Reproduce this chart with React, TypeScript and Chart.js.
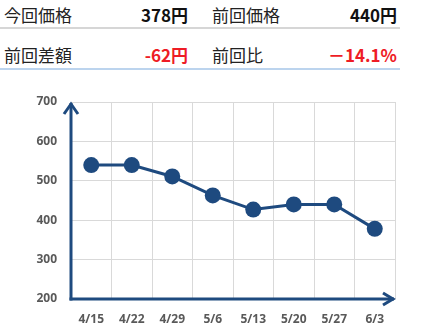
import React, { useEffect, useRef } from 'react';
import { Chart, registerables } from 'chart.js';

Chart.register(...registerables);

const categories = ['4/15', '4/22', '4/29', '5/6', '5/13', '5/20', '5/27', '6/3'];
const prices = [540, 540, 511, 463, 427, 440, 440, 378];
const yMin = 200;
const yMax = 700;
const yStep = 100;

const summaryLabels = ['今回価格', '前回価格', '前回差額', '前回比'];
const summaryValues = ['378円', '440円', '-62円', '－14.1%'];
const summaryValueColors = ['#111111', '#111111', '#ee1c25', '#ee1c25'];

const NAVY = '#1e4a7f';

const axisArrows = {
  id: 'axisArrows',
  beforeDatasetsDraw(chart: any) {
    const { ctx, chartArea } = chart;
    const { left, top, right, bottom } = chartArea;
    ctx.save();
    ctx.strokeStyle = NAVY;
    ctx.lineWidth = 3;
    ctx.lineJoin = 'miter';
    ctx.lineCap = 'butt';
    // y axis
    ctx.beginPath();
    ctx.moveTo(left, bottom + 1.5);
    ctx.lineTo(left, top + 1);
    ctx.stroke();
    ctx.beginPath();
    ctx.moveTo(left - 7, top + 12);
    ctx.lineTo(left, top + 2);
    ctx.lineTo(left + 7, top + 12);
    ctx.stroke();
    // x axis
    ctx.beginPath();
    ctx.moveTo(left - 1.5, bottom);
    ctx.lineTo(right - 1, bottom);
    ctx.stroke();
    ctx.beginPath();
    ctx.moveTo(right - 12, bottom - 6);
    ctx.lineTo(right - 2, bottom);
    ctx.lineTo(right - 12, bottom + 6);
    ctx.stroke();
    ctx.restore();
  },
};

function PriceChart() {
  const ref = useRef<HTMLCanvasElement | null>(null);
  useEffect(() => {
    if (!ref.current) return;
    const chart = new Chart(ref.current, {
      type: 'line',
      data: {
        labels: categories,
        datasets: [
          {
            data: prices,
            borderColor: NAVY,
            backgroundColor: NAVY,
            borderWidth: 3,
            pointRadius: 8,
            pointBackgroundColor: NAVY,
            pointBorderColor: NAVY,
            pointBorderWidth: 0,
            tension: 0,
          },
        ],
      },
      options: {
        responsive: false,
        animation: false,
        devicePixelRatio: 1,
        layout: { padding: { left: 0, top: 22, right: 33, bottom: 0 } },
        plugins: { legend: { display: false }, tooltip: { enabled: false } },
        scales: {
          x: {
            offset: true,
            grid: { color: '#d9d9d9', lineWidth: 1, drawTicks: false, offset: true },
            border: { display: false },
            ticks: {
              padding: 13,
              color: '#595959',
              font: { family: '"Open Sans", "Noto Sans", sans-serif', size: 12, weight: 'bold' },
              maxRotation: 0,
            },
            afterFit(scale: any) {
              scale.height = 35;
            },
          },
          y: {
            min: yMin,
            max: yMax,
            ticks: {
              stepSize: yStep,
              padding: 14,
              color: '#595959',
              font: { family: '"Open Sans", "Noto Sans", sans-serif', size: 12, weight: 'bold' },
            },
            grid: { color: '#d9d9d9', lineWidth: 1, drawTicks: false },
            border: { display: false },
            afterFit(scale: any) {
              scale.width = 71;
            },
          },
        },
      },
      plugins: [axisArrows],
    } as any);
    return () => chart.destroy();
  }, []);
  return (
    <canvas
      ref={ref}
      width={428}
      height={254}
      style={{ position: 'absolute', left: 0, top: 80, width: 428, height: 254 }}
    />
  );
}

const cellFont = '"Noto Sans CJK JP", "Noto Sans", sans-serif';

function Summary() {
  const rows = [0, 1];
  return (
    <>
      {rows.map((r) => (
        <React.Fragment key={r}>
          {[0, 1].map((c) => {
            const idx = r * 2 + c;
            const baseX = c === 0 ? 4 : 212;
            const rightX = c === 0 ? 188 : 397;
            const top = r === 0 ? 4 : 44;
            return (
              <React.Fragment key={c}>
                <div
                  style={{
                    position: 'absolute',
                    left: baseX,
                    top,
                    fontFamily: cellFont,
                    fontSize: 17,
                    lineHeight: '21px',
                    color: '#222222',
                    whiteSpace: 'nowrap',
                  }}
                >
                  {summaryLabels[idx]}
                </div>
                <div
                  style={{
                    position: 'absolute',
                    right: 428 - rightX,
                    top,
                    fontFamily: cellFont,
                    fontSize: 17,
                    fontWeight: 700,
                    lineHeight: '21px',
                    color: summaryValueColors[idx],
                    whiteSpace: 'nowrap',
                  }}
                >
                  {summaryValues[idx]}
                </div>
              </React.Fragment>
            );
          })}
        </React.Fragment>
      ))}
      <div style={{ position: 'absolute', left: 0, top: 27, width: 400, height: 2, background: '#d6d6d6' }} />
      <div style={{ position: 'absolute', left: 0, top: 68, width: 400, height: 1.5, background: '#bcd4ee' }} />
    </>
  );
}

export default function App() {
  return (
    <div
      style={{
        position: 'fixed',
        left: 0,
        top: 0,
        width: 428,
        height: 334,
        background: '#ffffff',
        overflow: 'hidden',
      }}
    >
      <Summary />
      <PriceChart />
    </div>
  );
}
